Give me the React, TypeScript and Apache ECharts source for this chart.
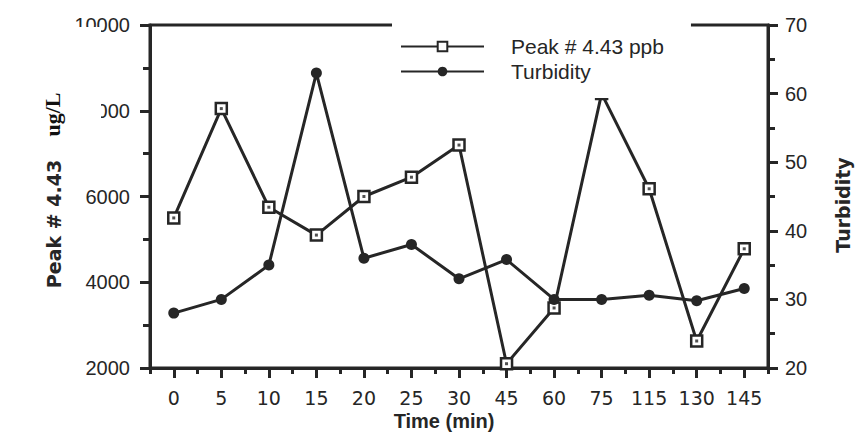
import React, { useEffect, useRef } from "react";
import * as echarts from "echarts";

const categories = ["0", "5", "10", "15", "20", "25", "30", "45", "60", "75", "115", "130", "145"];
const peakValues = [5500, 8050, 5750, 5100, 6000, 6450, 7200, 2100, 3400, 8400, 6180, 2630, 4780];
const turbidityValues = [28, 30, 35, 63, 36, 38, 33, 35.8, 30, 30, 30.6, 29.8, 31.6];
const peakName = "Peak # 4.43 ppb";
const turbName = "Turbidity";

const INK = "#262626";
const LW = 3;

export default function App() {
  const ref = useRef<HTMLDivElement>(null);
  useEffect(() => {
    if (!ref.current) return;
    const chart = echarts.init(ref.current, undefined, { renderer: "svg" });
    const grid = { left: 150, right: 93, top: 25, bottom: 79 };
    const axisLineStyle = { color: INK, width: LW };
    chart.setOption({
      animation: false,
      backgroundColor: "#fff",
      grid: [
        { ...grid, show: true, borderColor: INK, borderWidth: LW, backgroundColor: "transparent" },
        { ...grid, show: false },
      ],
      legend: {
        data: [peakName, turbName],
        orient: "vertical",
        left: 392,
        top: 12,
        padding: [24, 27, 16, 8],
        itemWidth: 83,
        itemHeight: 12,
        itemGap: 4,
        backgroundColor: "#fff",
        textStyle: {
          fontFamily: "Liberation Sans",
          fontSize: 21,
          color: INK,
          lineHeight: 21,
          padding: [0, 0, 0, 22],
        },
        selectedMode: false,
      },
      xAxis: [
        {
          type: "category",
          data: categories,
          gridIndex: 0,
          boundaryGap: true,
          axisLine: { lineStyle: axisLineStyle },
          axisTick: { show: true, length: 6, lineStyle: axisLineStyle },
          axisLabel: {
            margin: 20,
            fontFamily: "DejaVu Sans",
            fontSize: 19,
            color: INK,
            interval: 0,
          },
          splitLine: { show: false },
        },
        {
          type: "category",
          data: categories,
          gridIndex: 1,
          position: "bottom",
          boundaryGap: true,
          axisLine: { show: false },
          axisTick: { show: true, alignWithLabel: true, length: 10, lineStyle: axisLineStyle },
          axisLabel: { show: false },
          splitLine: { show: false },
        },
      ],
      yAxis: [
        {
          type: "value",
          gridIndex: 0,
          position: "left",
          min: 2000,
          max: 10000,
          interval: 2000,
          axisLine: { show: true, lineStyle: axisLineStyle },
          axisTick: { show: true, length: 10, lineStyle: axisLineStyle },
          minorTick: { show: true, splitNumber: 2, length: 7, lineStyle: axisLineStyle },
          axisLabel: {
            margin: 20,
            fontFamily: "Liberation Sans",
            fontSize: 20,
            color: INK,
            formatter: (v: number) => String(v),
          },
          splitLine: { show: false },
        },
        {
          type: "value",
          gridIndex: 0,
          position: "right",
          min: 20,
          max: 70,
          interval: 10,
          axisLine: { show: true, lineStyle: axisLineStyle },
          axisTick: { show: true, length: 10, lineStyle: axisLineStyle },
          minorTick: { show: true, splitNumber: 2, length: 7, lineStyle: axisLineStyle },
          axisLabel: {
            margin: 17,
            fontFamily: "Liberation Sans",
            fontSize: 20,
            color: INK,
            formatter: (v: number) => String(v),
          },
          splitLine: { show: false },
        },
        {
          type: "value",
          gridIndex: 1,
          show: false,
        },
      ],
      series: [
        {
          name: peakName,
          type: "line",
          xAxisIndex: 0,
          yAxisIndex: 0,
          data: peakValues,
          symbol: "rect",
          symbolSize: 11,
          showAllSymbol: true,
          lineStyle: { color: INK, width: LW },
          itemStyle: { color: "#fff", borderColor: INK, borderWidth: 2.5 },
          z: 2,
          silent: true,
        },
        {
          name: "peak-dot",
          type: "scatter",
          xAxisIndex: 0,
          yAxisIndex: 0,
          data: peakValues,
          symbol: "rect",
          symbolSize: 3,
          itemStyle: { color: INK },
          z: 3,
          silent: true,
        },
        {
          name: turbName,
          type: "line",
          xAxisIndex: 0,
          yAxisIndex: 1,
          data: turbidityValues,
          symbol: "circle",
          symbolSize: 11,
          showAllSymbol: true,
          lineStyle: { color: INK, width: LW },
          itemStyle: { color: INK },
          z: 2,
          silent: true,
        },
      ],
      graphic: [
        {
          type: "text",
          x: 444,
          y: 421,
          style: {
            text: "Time (min)",
            fontFamily: "Liberation Sans",
            fontWeight: "bold",
            fontSize: 20,
            fill: INK,
            align: "center",
            verticalAlign: "middle",
          },
        },
        {
          type: "text",
          x: 843,
          y: 205,
          rotation: Math.PI / 2,
          style: {
            text: "Turbidity",
            fontFamily: "DejaVu Sans",
            fontWeight: "bold",
            fontSize: 19,
            fill: INK,
            align: "center",
            verticalAlign: "middle",
          },
        },
        {
          type: "text",
          x: 53.5,
          y: 224,
          rotation: Math.PI / 2,
          style: {
            text: "Peak # 4.43",
            fontFamily: "DejaVu Sans",
            fontWeight: "bold",
            fontSize: 19,
            fill: INK,
            align: "center",
            verticalAlign: "middle",
          },
        },
        {
          type: "rect",
          shape: { x: 30, y: 27, width: 71, height: 119 },
          style: { fill: "#fff" },
          z: 100,
        },
        {
          type: "text",
          x: 52,
          y: 114.5,
          rotation: Math.PI / 2,
          z: 101,
          style: {
            text: "ug/L",
            fontFamily: "Liberation Serif",
            fontWeight: "bold",
            fontSize: 22,
            fill: "#111",
            align: "center",
            verticalAlign: "middle",
          },
        },
      ],
    });
    return () => chart.dispose();
  }, []);
  return (
    <div
      ref={ref}
      style={{ position: "fixed", left: 0, top: 0, width: 861, height: 447, background: "#fff" }}
    />
  );
}
